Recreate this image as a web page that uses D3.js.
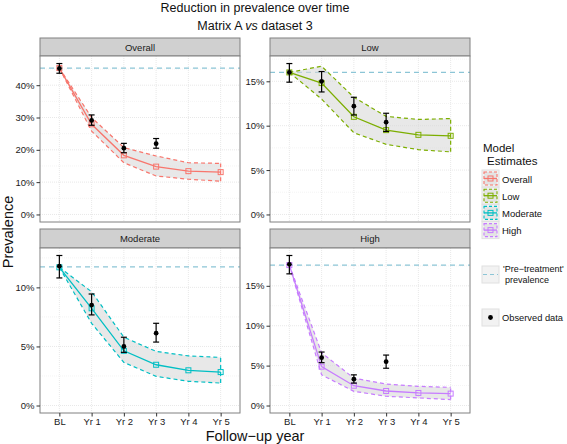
<!DOCTYPE html>
<html><head><meta charset="utf-8">
<script src="https://cdn.jsdelivr.net/npm/d3@7"></script>
<style>body{margin:0;background:#fff;} svg{display:block;font-family:"Liberation Sans",Arial,sans-serif;}</style>
</head><body><svg id="c" width="567" height="444"></svg>
<script>
const years = ["BL","Yr 1","Yr 2","Yr 3","Yr 4","Yr 5"];
const groups = ["Overall","Low","Moderate","High"];
const colors = ["#F8766D","#7CAE00","#00BFC4","#C77CFF"];
// model estimates (%)
const modelOverall  = [45.3, 27.9, 18.3, 14.8, 13.4, 13.1];
const modelLow      = [16.0, 14.8, 11.0, 9.5, 8.97, 8.86];
const modelModerate = [11.7, 8.23, 4.63, 3.45, 2.98, 2.83];
const modelHigh     = [17.6, 4.87, 2.48, 1.82, 1.57, 1.49];
// ribbon lower / upper (%)
const lowerOverall  = [45.3, 25.8, 16.0, 11.9, 10.9, 10.3];
const upperOverall  = [45.3, 30.0, 20.7, 18.1, 16.0, 15.8];
const lowerLow      = [16.0, 13.0, 9.2, 7.9, 7.3, 7.05];
const upperLow      = [16.0, 16.7, 13.2, 11.05, 10.7, 10.8];
const lowerModerate = [11.7, 6.96, 3.65, 2.47, 2.05, 1.9];
const upperModerate = [11.7, 9.63, 5.78, 4.58, 4.2, 4.07];
const lowerHigh     = [17.6, 3.84, 1.78, 1.16, 0.95, 0.74];
const upperHigh     = [17.6, 6.6, 3.43, 2.69, 2.4, 2.27];
// observed data (BL..Yr 3) with error bars (%)
const obsYears = ["BL","Yr 1","Yr 2","Yr 3"];
const obsOverall  = [45.2, 29.1, 20.5, 21.9];
const obsLoOverall= [43.7, 27.6, 19.1, 20.5];
const obsHiOverall= [46.7, 30.8, 22.0, 23.5];
const obsLow      = [16.0, 15.0, 12.2, 10.4];
const obsLoLow    = [14.9, 13.8, 11.2, 9.35];
const obsHiLow    = [17.0, 16.1, 13.2, 11.4];
const obsModerate = [11.8, 8.5, 5.0, 6.12];
const obsLoModerate=[10.8, 7.67, 4.5, 5.37];
const obsHiModerate=[12.7, 9.44, 5.78, 6.96];
const obsHigh     = [17.7, 6.0, 3.3, 5.49];
const obsLoHigh   = [16.5, 5.37, 2.81, 4.67];
const obsHiHigh   = [18.8, 6.7, 3.84, 6.32];
// pre-treatment prevalence (%)
const baseline = [45.3, 16.0, 11.74, 17.6];
// y ticks per panel
const yTicks = [[0,10,20,30,40],[0,5,10,15],[0,5,10],[0,5,10,15]];
const yMinor = [[5,15,25,35,45],[2.5,7.5,12.5,17.5],[2.5,7.5,12.5],[2.5,7.5,12.5,17.5]];

const model = [modelOverall, modelLow, modelModerate, modelHigh];
const lower = [lowerOverall, lowerLow, lowerModerate, lowerHigh];
const upper = [upperOverall, upperLow, upperModerate, upperHigh];
const obs = [obsOverall, obsLow, obsModerate, obsHigh];
const obsLo = [obsLoOverall, obsLoLow, obsLoModerate, obsLoHigh];
const obsHi = [obsHiOverall, obsHiLow, obsHiModerate, obsHiHigh];

const svg = d3.select("#c");
const panelW = 200;
const layout = [
  {x:40, stripY:38, top:56, bottom:222},
  {x:270, stripY:38, top:56, bottom:222},
  {x:40, stripY:229, top:248, bottom:413},
  {x:270, stripY:229, top:248, bottom:413}
];

// titles
svg.append("text").attr("x",255).attr("y",11.5).attr("text-anchor","middle")
  .attr("font-size",12.5).attr("fill","#111").text("Reduction in prevalence over time");
const t2 = svg.append("text").attr("x",255).attr("y",30).attr("text-anchor","middle")
  .attr("font-size",12.5).attr("fill","#111");
t2.append("tspan").text("Matrix A ");
t2.append("tspan").attr("font-style","italic").text("vs");
t2.append("tspan").text(" dataset 3");

groups.forEach((g,i)=>{
  const L = layout[i];
  const x = d3.scalePoint().domain(years).range([L.x, L.x+panelW]).padding(0.6);
  const maxV = d3.max([d3.max(upper[i]), d3.max(obsHi[i]), baseline[i], d3.max(model[i])]);
  const pad = maxV*0.05;
  const y = d3.scaleLinear().domain([0-pad, maxV+pad]).range([L.bottom, L.top]);
  const gp = svg.append("g");
  // strip
  gp.append("rect").attr("x",L.x).attr("y",L.stripY).attr("width",panelW).attr("height",L.top-L.stripY)
    .attr("fill","#d0d0d0").attr("stroke","#808080").attr("stroke-width",1);
  gp.append("text").attr("x",L.x+panelW/2).attr("y",(L.stripY+L.top)/2+3.5).attr("text-anchor","middle")
    .attr("font-size",9.5).attr("fill","#1a1a1a").text(g);
  // panel bg
  gp.append("rect").attr("x",L.x).attr("y",L.top).attr("width",panelW).attr("height",L.bottom-L.top)
    .attr("fill","#fff");
  // grid
  yMinor[i].filter(v=>y(v)>L.top).forEach(v=>{
    gp.append("line").attr("x1",L.x).attr("x2",L.x+panelW).attr("y1",y(v)).attr("y2",y(v))
      .attr("stroke","#ececec").attr("stroke-width",0.6).attr("stroke-dasharray","1,1");
  });
  yTicks[i].forEach(v=>{
    gp.append("line").attr("x1",L.x).attr("x2",L.x+panelW).attr("y1",y(v)).attr("y2",y(v))
      .attr("stroke","#e2e2e2").attr("stroke-width",0.8).attr("stroke-dasharray","1,1");
  });
  years.forEach(c=>{
    gp.append("line").attr("x1",x(c)).attr("x2",x(c)).attr("y1",L.top).attr("y2",L.bottom)
      .attr("stroke","#e2e2e2").attr("stroke-width",0.8).attr("stroke-dasharray","1,1");
  });
  // baseline
  gp.append("line").attr("x1",L.x).attr("x2",L.x+panelW).attr("y1",y(baseline[i])).attr("y2",y(baseline[i]))
    .attr("stroke","#8cc5d6").attr("stroke-width",1.2).attr("stroke-dasharray","5,4");
  // ribbon
  const rib = years.map((c,k)=>({c, lo:lower[i][k], hi:upper[i][k]}));
  const area = d3.area().x(d=>x(d.c)).y0(d=>y(d.lo)).y1(d=>y(d.hi));
  gp.append("path").attr("d",area(rib)).attr("fill","#d9d9d9").attr("fill-opacity",0.6)
    .attr("stroke","none");
  const lineLo = d3.line().x(d=>x(d.c)).y(d=>y(d.lo));
  const lineHi = d3.line().x(d=>x(d.c)).y(d=>y(d.hi));
  [lineLo, lineHi].forEach(ln=>{
    gp.append("path").attr("d",ln(rib)).attr("fill","none").attr("stroke",colors[i])
      .attr("stroke-width",1.2).attr("stroke-dasharray","4,3");
  });
  gp.append("line").attr("x1",x("Yr 5")).attr("x2",x("Yr 5")).attr("y1",y(rib[5].lo)).attr("y2",y(rib[5].hi))
    .attr("stroke",colors[i]).attr("stroke-width",1.2).attr("stroke-dasharray","4,3");
  // model line
  const md = years.map((c,k)=>({c, v:model[i][k]}));
  gp.append("path").attr("d",d3.line().x(d=>x(d.c)).y(d=>y(d.v))(md)).attr("fill","none")
    .attr("stroke",colors[i]).attr("stroke-width",1.3);
  gp.selectAll(null).data(md).enter().append("rect")
    .attr("x",d=>x(d.c)-2.5).attr("y",d=>y(d.v)-2.5).attr("width",5).attr("height",5)
    .attr("fill","none").attr("stroke",colors[i]).attr("stroke-width",1);
  // observed
  const od = obsYears.map((c,k)=>({c, v:obs[i][k], lo:obsLo[i][k], hi:obsHi[i][k]}));
  od.forEach(d=>{
    const cx = x(d.c);
    gp.append("line").attr("x1",cx).attr("x2",cx).attr("y1",y(d.lo)).attr("y2",y(d.hi))
      .attr("stroke","#000").attr("stroke-width",1.2);
    [d.lo,d.hi].forEach(v=>{
      gp.append("line").attr("x1",cx-3).attr("x2",cx+3).attr("y1",y(v)).attr("y2",y(v))
        .attr("stroke","#000").attr("stroke-width",1.2);
    });
    gp.append("circle").attr("cx",cx).attr("cy",y(d.v)).attr("r",2.4).attr("fill","#000");
  });
  // border
  gp.append("rect").attr("x",L.x).attr("y",L.top).attr("width",panelW).attr("height",L.bottom-L.top)
    .attr("fill","none").attr("stroke","#808080").attr("stroke-width",1);
  // y axis
  const ya = d3.axisLeft(y).tickValues(yTicks[i]).tickFormat(d=>d+"%").tickSize(3.5).tickPadding(2);
  const yg = gp.append("g").attr("transform",`translate(${L.x},0)`).call(ya);
  yg.select(".domain").remove();
  yg.selectAll("line").attr("stroke","#333");
  yg.selectAll("text").attr("font-size",9.5).attr("fill","#1a1a1a").attr("font-family","Liberation Sans, Arial, sans-serif");
  // x axis on bottom panels
  if (i>=2){
    const xa = d3.axisBottom(x).tickSize(3.5).tickPadding(2);
    const xg = gp.append("g").attr("transform",`translate(0,${L.bottom})`).call(xa);
    xg.select(".domain").remove();
    xg.selectAll("line").attr("stroke","#333");
    xg.selectAll("text").attr("font-size",9.5).attr("fill","#1a1a1a").attr("font-family","Liberation Sans, Arial, sans-serif");
  }
});

// axis titles
svg.append("text").attr("x",255).attr("y",441).attr("text-anchor","middle").attr("font-size",14.5)
  .attr("fill","#111").text("Follow\u2212up year");
svg.append("text").attr("transform","translate(13,232) rotate(-90)").attr("text-anchor","middle")
  .attr("font-size",14.5).attr("fill","#111").text("Prevalence");

// legend
const lg = svg.append("g");
lg.append("text").attr("x",483).attr("y",152).attr("font-size",11.5).attr("fill","#111").text("Model");
lg.append("text").attr("x",487).attr("y",165).attr("font-size",11.5).attr("fill","#111").text("Estimates");
groups.forEach((g,i)=>{
  const ky = 170 + i*17.2;
  lg.append("rect").attr("x",482).attr("y",ky).attr("width",17).attr("height",17).attr("fill","#f2f2f2").attr("stroke","#e0e0e0");
  lg.append("rect").attr("x",484).attr("y",ky+2).attr("width",13).attr("height",13).attr("fill","#e4e4e4")
    .attr("stroke",colors[i]).attr("stroke-width",1.1).attr("stroke-dasharray","3,2");
  lg.append("line").attr("x1",484).attr("x2",497).attr("y1",ky+8.5).attr("y2",ky+8.5).attr("stroke",colors[i]).attr("stroke-width",1.3);
  lg.append("rect").attr("x",488).attr("y",ky+6).attr("width",5).attr("height",5).attr("fill","none").attr("stroke",colors[i]).attr("stroke-width",1);
  lg.append("text").attr("x",502).attr("y",ky+12.5).attr("font-size",9.5).attr("fill","#111").text(g);
});
// pre-treatment key
lg.append("rect").attr("x",482).attr("y",266).attr("width",17).attr("height",17).attr("fill","#f2f2f2").attr("stroke","#e0e0e0");
lg.append("line").attr("x1",483).attr("x2",498).attr("y1",274.5).attr("y2",274.5).attr("stroke","#8cc5d6").attr("stroke-width",1.2).attr("stroke-dasharray","4,3");
lg.append("text").attr("x",503).attr("y",271.5).attr("font-size",9).attr("fill","#111").text("'Pre\u2212treatment'");
lg.append("text").attr("x",505).attr("y",283).attr("font-size",9).attr("fill","#111").text("prevalence");
// observed key
lg.append("rect").attr("x",482).attr("y",309).attr("width",17).attr("height",17).attr("fill","#f2f2f2").attr("stroke","#e0e0e0");
lg.append("circle").attr("cx",490.5).attr("cy",317.5).attr("r",2.4).attr("fill","#000");
lg.append("text").attr("x",502).attr("y",321).attr("font-size",9.3).attr("fill","#111").text("Observed data");
</script></body></html>
